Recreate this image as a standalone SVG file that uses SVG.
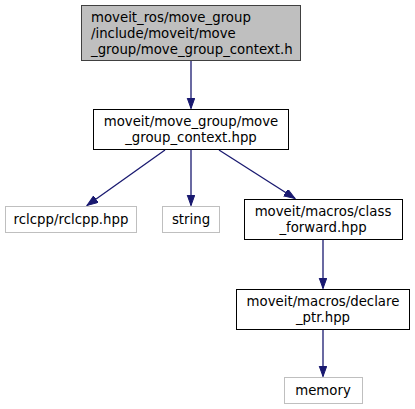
<svg xmlns="http://www.w3.org/2000/svg" width="415" height="409" viewBox="0 0 415 409">
<defs>
<marker id="arr" markerUnits="userSpaceOnUse" markerWidth="12" markerHeight="9" refX="11" refY="4" orient="auto">
<path d="M0,0 L11,4 L0,8 Z" fill="#191970" stroke="#191970" stroke-width="1"/>
</marker>
<style>
text{font-family:"DejaVu Sans","Liberation Sans",sans-serif;font-size:13.3px;fill:#000}
.c{text-anchor:middle}
.box{fill:#fff;stroke:#000;stroke-width:1}
.ext{fill:#fff;stroke:#bfbfbf;stroke-width:1}
.cur{fill:#bfbfbf;stroke:#404040;stroke-width:1}
.e{stroke:#191970;stroke-width:1.3;fill:none;marker-end:url(#arr)}
</style>
</defs>
<rect width="415" height="409" fill="#fff"/>
<g id="edges">
<line class="e" x1="191" y1="60.5" x2="191" y2="108.5"/>
<line class="e" x1="165" y1="150" x2="87" y2="205.5"/>
<line class="e" x1="191" y1="150" x2="191" y2="205.5"/>
<line class="e" x1="219" y1="150" x2="295" y2="198.5"/>
<line class="e" x1="323" y1="239" x2="323" y2="288.5"/>
<line class="e" x1="323" y1="329" x2="323" y2="376.5"/>
</g>
<g id="node1">
<rect class="cur" x="81.5" y="5.5" width="219" height="55"/>
<text x="91" y="22">moveit_ros/move_group</text>
<text x="91" y="38">/include/moveit/move</text>
<text x="91" y="54">_group/move_group_context.h</text>
</g>
<g id="node2">
<rect class="box" x="93.5" y="109.5" width="195" height="40"/>
<text class="c" x="191" y="126">moveit/move_group/move</text>
<text class="c" x="191" y="142">_group_context.hpp</text>
</g>
<g id="node3">
<rect class="ext" x="5.5" y="206.5" width="131" height="26"/>
<text class="c" x="71" y="224">rclcpp/rclcpp.hpp</text>
</g>
<g id="node4">
<rect class="ext" x="162.5" y="206.5" width="57" height="26"/>
<text class="c" x="191" y="224">string</text>
</g>
<g id="node5">
<rect class="box" x="244.5" y="199.5" width="158" height="40"/>
<text class="c" x="323" y="216">moveit/macros/class</text>
<text class="c" x="323" y="232">_forward.hpp</text>
</g>
<g id="node6">
<rect class="box" x="236.5" y="289.5" width="173" height="40"/>
<text class="c" x="323" y="306">moveit/macros/declare</text>
<text class="c" x="323" y="322">_ptr.hpp</text>
</g>
<g id="node7">
<rect class="ext" x="284.5" y="377.5" width="78" height="26"/>
<text class="c" x="323" y="395">memory</text>
</g>
</svg>
